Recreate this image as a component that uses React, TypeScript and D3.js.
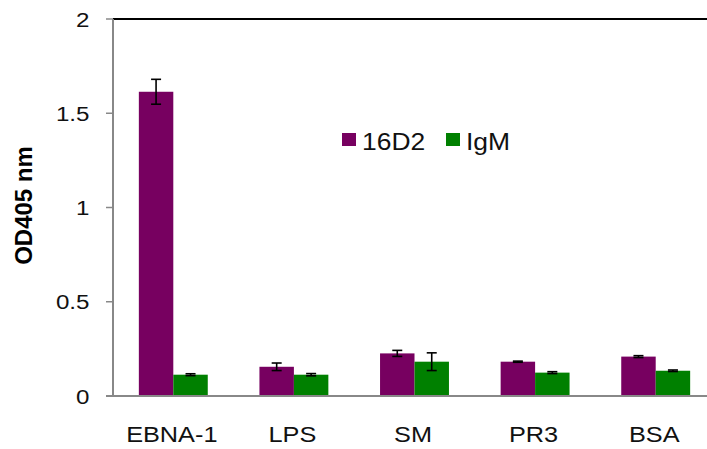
import React from 'react';
import * as d3 from 'd3';

const categories = ['EBNA-1', 'LPS', 'SM', 'PR3', 'BSA'];
const seriesNames = ['16D2', 'IgM'];
const values16D2 = [1.614, 0.155, 0.226, 0.182, 0.209];
const errors16D2 = [0.066, 0.02, 0.016, 0.003, 0.005];
const valuesIgM = [0.113, 0.113, 0.182, 0.124, 0.134];
const errorsIgM = [0.005, 0.006, 0.047, 0.005, 0.004];
const yTicks = [0, 0.5, 1, 1.5, 2];
const colors = ['#770060', '#008000'];

const W = 707;
const H = 449;
const left = 113;
const top = 19;
const bottom = 396;
const font = '"Liberation Sans", Arial, sans-serif';
const stretch = 'scale(1.15,1)';

const App = () => {
  const x0 = d3.scaleBand().domain(categories).range([left, 716]).padding(0);
  const x1 = d3.scaleBand().domain(seriesNames).range([0, x0.bandwidth()]).paddingInner(0).paddingOuter(0.75);
  const y = d3.scaleLinear().domain([0, 2]).range([bottom, top]);

  const series = [
    { name: seriesNames[0], values: values16D2, errors: errors16D2, color: colors[0] },
    { name: seriesNames[1], values: valuesIgM, errors: errorsIgM, color: colors[1] },
  ];

  return (
    <svg width={W} height={H} style={{ position: 'absolute', left: 0, top: 0, background: '#fff' }}>
      {/* top border */}
      <line x1={left} x2={W} y1={y(2)} y2={y(2)} stroke="#000" strokeWidth={2} />

      {/* bars */}
      {series.map(s =>
        categories.map((c, i) => (
          <rect
            key={s.name + c}
            x={x0(c)! + x1(s.name)!}
            y={y(s.values[i])}
            width={x1.bandwidth()}
            height={bottom - y(s.values[i])}
            fill={s.color}
          />
        ))
      )}

      {/* error bars */}
      {series.map(s =>
        categories.map((c, i) => {
          const cx = x0(c)! + x1(s.name)! + x1.bandwidth() / 2;
          const hi = y(s.values[i] + s.errors[i]);
          const lo = y(s.values[i] - s.errors[i]);
          return (
            <g key={'e' + s.name + c} stroke="#000" strokeWidth={1.6}>
              <line x1={cx} x2={cx} y1={hi} y2={lo} />
              <line x1={cx - 5} x2={cx + 5} y1={hi} y2={hi} />
              <line x1={cx - 5} x2={cx + 5} y1={lo} y2={lo} />
            </g>
          );
        })
      )}

      {/* y axis */}
      <line x1={left} x2={left} y1={y(2)} y2={bottom} stroke="#888" strokeWidth={2} />
      {yTicks.map(t => (
        <g key={t}>
          <line x1={left - 7} x2={left} y1={y(t)} y2={y(t)} stroke="#888" strokeWidth={1.5} />
          <text
            transform={`translate(89.5,${y(t) + 7.5}) ${stretch}`}
            textAnchor="end"
            fontFamily={font}
            fontSize={21}
            fill="#111"
          >
            {t}
          </text>
        </g>
      ))}

      {/* x axis */}
      <line x1={left - 7} x2={W} y1={bottom} y2={bottom} stroke="#888" strokeWidth={2} />
      {categories.map(c => (
        <text
          key={c}
          transform={`translate(${x0(c)! + x0.bandwidth() / 2 - 1.5},441.5) ${stretch}`}
          textAnchor="middle"
          fontFamily={font}
          fontSize={22}
          fill="#111"
        >
          {c}
        </text>
      ))}

      {/* y label */}
      <text
        transform={`translate(32,${(top + bottom) / 2 - 2}) rotate(-90)`}
        textAnchor="middle"
        fontFamily={font}
        fontSize={24}
        fontWeight="bold"
        fill="#000"
      >
        OD405 nm
      </text>

      {/* legend */}
      {series.map((s, i) => {
        const lx = i === 0 ? 342 : 446;
        return (
          <g key={'l' + s.name}>
            <rect x={lx} y={133} width={14} height={13} fill={s.color} />
            <text
              transform={`translate(${lx + 20},150) ${stretch}`}
              fontFamily={font}
              fontSize={23}
              fill="#111"
            >
              {s.name}
            </text>
          </g>
        );
      })}
    </svg>
  );
};

export default App;
